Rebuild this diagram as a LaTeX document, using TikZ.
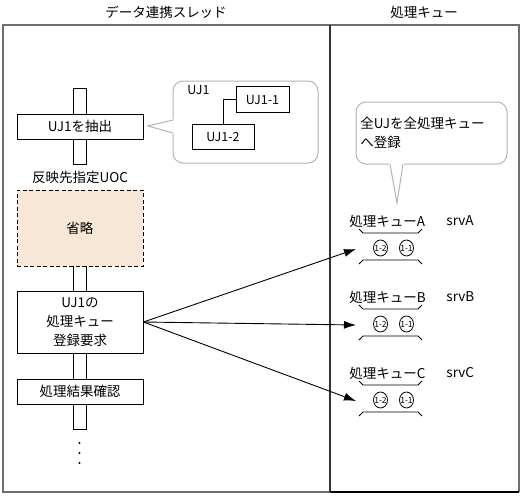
\documentclass[tikz,border=0pt]{standalone}
\usepackage{fontspec}
\setmainfont{Noto Sans CJK JP}
\usetikzlibrary{arrows.meta,positioning,shapes.geometric}

\definecolor{framegray}{HTML}{6E6E6E}
\definecolor{bubblegray}{HTML}{B4B4B4}
\definecolor{skipfill}{HTML}{F8E7D7}

\newcommand{\jpfont}{\fontsize{13.5}{19}\selectfont}

\tikzset{
  stepbox/.style={draw, fill=white, minimum width=126pt, inner sep=0pt, align=center, font=\jpfont},
  ujbox/.style={draw, fill=white, minimum height=26pt, inner sep=0pt, font=\fontsize{12.5}{14}\selectfont},
  bubble/.style={draw=bubblegray, fill=white, line width=1pt},
  jobtext/.style={inner sep=0pt, font=\fontsize{8.5}{9}\selectfont},
  job/.style={draw, ellipse, minimum width=14pt, minimum height=16pt, inner sep=0pt, line width=0.8pt, label={[jobtext]center:#1}},
  qtext/.style={anchor=west, inner sep=0pt, font=\jpfont},
}

\begin{document}
\begin{tikzpicture}[x=1pt, y=-1pt, line width=0.9pt]
    \useasboundingbox (0,0) rectangle (523,496);
    \fill[white] (0,0) rectangle (523,496);

    % titles
    \node[font=\jpfont] (thtitle) at (166,12) {データ連携スレッド};
    \node[font=\jpfont] (qtitle) at (424,12) {処理キュー};

    % panels
    \draw[framegray, line width=1.6pt] (330,492) -- (3,492) -- (3,25) -- (519,25) -- (519,492);
    \draw[black, line width=1.3pt] (519,492) -- (330,492);
    \draw[black!80, line width=1.6pt] (330,25) -- (330,492);

    % thread bar
    \draw[fill=white] (73,88) rectangle (86,164);
    \draw[fill=white] (73,262) rectangle (86,429);

    \node[stepbox, minimum height=25pt] (extract) at (80,126.5) {UJ1を抽出};
    \node[font=\jpfont] (uoc) at (80,177) {反映先指定UOC};
    \node[stepbox, minimum height=76pt, dash pattern=on 4pt off 2.5pt, fill=skipfill] (skip) at (80,228) {省略};
    \node[stepbox, minimum height=62pt] (register) at (80,322) {UJ1の\\処理キュー\\登録要求};
    \node[stepbox, minimum height=25pt] (check) at (80,391.5) {処理結果確認};

    \foreach \dy in {443,453,463}
        \fill (79.5,\dy) circle (1.2pt);

    % UJ1 bubble
    \draw[bubble, rounded corners=10pt] (173,81) rectangle (318,163);
    \fill[white] (174.5,119) -- (148,126) -- (174.5,134) -- cycle;
    \draw[bubblegray, line width=1pt] (173,120) -- (148,126) -- (173,133);
    \node[anchor=west, inner sep=0pt, font=\fontsize{12.5}{14}\selectfont] (uj1) at (187,90) {UJ1};
    \node[ujbox, minimum width=53pt] (uj11) at (262.5,99.5) {UJ1-1};
    \node[ujbox, minimum width=62pt, minimum height=25pt] (uj12) at (223,136.5) {UJ1-2};
    \draw (uj11.west) -| (uj12.north);

    % queue bubble
    \draw[bubble, rounded corners=10pt] (356,102) rectangle (507,164);
    \fill[white] (389,163) -- (397,203) -- (404,163) -- cycle;
    \draw[bubblegray, line width=1pt] (390,164) -- (397,203) -- (403,164);
    \node[anchor=west, align=left, inner sep=0pt, font=\jpfont] (note) at (360,132.5) {全UJを全処理キュー\\へ登録};

    % queues
    \foreach \q/\y in {A/221, B/297, C/373} {
        \node[qtext] (name\q) at (349,\y) {処理キュー\q};
        \node[qtext] (srv\q) at (446,\y) {srv\q};
        \draw (359,\y+8) -- (363,\y+12) -- (418,\y+12) -- (422,\y+8);
        \node[job=1-2] (j2\q) at (380.5,\y+27) {};
        \node[job=1-1] (j1\q) at (406.5,\y+27) {};
        \draw (359,\y+43) -- (363,\y+39) -- (418,\y+39) -- (422,\y+43);
        \coordinate (in\q) at (356,\y+28);
        \draw[-{Latex[length=12pt,width=8pt]}] (register.east) -- (in\q);
    }
\end{tikzpicture}
\end{document}
